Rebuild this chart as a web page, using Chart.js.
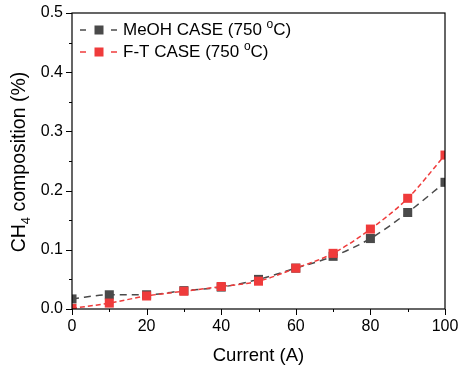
<!DOCTYPE html>
<html><head><meta charset="utf-8">
<script src="https://cdn.jsdelivr.net/npm/chart.js@4"></script>
<style>html,body{margin:0;padding:0;background:#fff}#wrap{width:461px;height:368px}</style>
</head><body><div id="wrap"><canvas id="c" width="461" height="368"></canvas></div>
<script>
const currents = [0,10,20,30,40,50,60,70,80,90,100];
const meohValues = [0.017,0.024,0.024,0.031,0.037,0.050,0.069,0.089,0.119,0.163,0.214];
const ftValues = [0.001,0.010,0.022,0.030,0.038,0.047,0.069,0.094,0.135,0.187,0.260];
const seriesNames = ['MeOH CASE (750 ', 'F-T CASE (750 '];
const xTitle = 'Current (A)';
const xTicks = [0,20,40,60,80,100];
const yTicks = [0,0.1,0.2,0.3,0.4,0.5];
const DARK = '#4a4a4a', RED = '#ef3b3b';
const FONT = '"Liberation Sans", Arial, sans-serif';

const deco = {
  id: 'deco',
  afterDraw(chart) {
    const ctx = chart.ctx, a = chart.chartArea;
    const xs = chart.scales.x, ys = chart.scales.y;
    ctx.save();
    ctx.strokeStyle = '#000'; ctx.lineWidth = 1.2;
    ctx.strokeRect(a.left, a.top, a.right - a.left, a.bottom - a.top);
    ctx.lineWidth = 1;
    for (let v = 0; v <= 100; v += 10) {
      const px = Math.round(xs.getPixelForValue(v)) + 0.5;
      const len = (v % 20 === 0) ? 6 : 3;
      ctx.beginPath(); ctx.moveTo(px, a.bottom); ctx.lineTo(px, a.bottom + len); ctx.stroke();
    }
    for (let i = 0; i <= 10; i++) {
      const v = i * 0.05;
      const py = Math.round(ys.getPixelForValue(v)) + 0.5;
      const len = (i % 2 === 0) ? 6 : 3;
      ctx.beginPath(); ctx.moveTo(a.left, py); ctx.lineTo(a.left - len, py); ctx.stroke();
    }
    // x title
    ctx.fillStyle = '#000';
    ctx.font = '18.5px ' + FONT; ctx.textAlign = 'center'; ctx.textBaseline = 'middle';
    ctx.fillText(xTitle, (a.left + a.right) / 2, 356);
    ctx.textAlign = 'left';
    // y title with subscript
    ctx.translate(20, (a.top + a.bottom) / 2 + 1);
    ctx.rotate(-Math.PI / 2);
    const f1 = '19.5px ' + FONT, f2 = '13px ' + FONT;
    ctx.font = f1; const w1 = ctx.measureText('CH').width;
    ctx.font = f2; const w2 = ctx.measureText('4').width;
    ctx.font = f1; const w3 = ctx.measureText(' composition (%)').width;
    let x0 = -(w1 + w2 + w3) / 2;
    ctx.font = f1; ctx.fillText('CH', x0, 0); x0 += w1;
    ctx.font = f2; ctx.fillText('4', x0, 6); x0 += w2;
    ctx.font = f1; ctx.fillText(' composition (%)', x0, 0);
    ctx.restore();

    // legend
    ctx.save();
    const rows = [{c: DARK, y: 30}, {c: RED, y: 52}];
    rows.forEach((r, i) => {
      ctx.strokeStyle = r.c; ctx.lineWidth = 1.5;
      ctx.beginPath(); ctx.moveTo(80, r.y); ctx.lineTo(86, r.y); ctx.stroke();
      ctx.beginPath(); ctx.moveTo(111, r.y); ctx.lineTo(117, r.y); ctx.stroke();
      ctx.fillStyle = r.c; ctx.fillRect(94.5, r.y - 4.5, 9, 9);
      ctx.fillStyle = '#000'; ctx.textBaseline = 'middle';
      ctx.font = '17px ' + FONT;
      let tx = 123;
      ctx.fillText(seriesNames[i], tx, r.y); tx += ctx.measureText(seriesNames[i]).width;
      ctx.font = '12px ' + FONT; ctx.fillText('o', tx, r.y - 5); tx += ctx.measureText('o').width;
      ctx.font = '17px ' + FONT; ctx.fillText('C)', tx, r.y);
    });
    ctx.restore();
  }
};

new Chart(document.getElementById('c'), {
  type: 'line',
  data: {
    labels: currents,
    datasets: [
      {label: 'MeOH', data: currents.map((x, i) => ({x, y: meohValues[i]})), borderColor: DARK, backgroundColor: DARK,
       borderDash: [7,5], borderWidth: 1.5, pointStyle: 'rect', pointRadius: 6.4, pointBorderWidth: 0, tension: 0.4, cubicInterpolationMode: 'monotone', order: 2},
      {label: 'FT', data: currents.map((x, i) => ({x, y: ftValues[i]})), borderColor: RED, backgroundColor: RED,
       borderDash: [5,3], borderWidth: 1.5, pointStyle: 'rect', pointRadius: 6.4, pointBorderWidth: 0, tension: 0.4, cubicInterpolationMode: 'monotone', order: 1}
    ]
  },
  options: {
    responsive: false, animation: false,
    layout: {padding: {top: 13, right: 16, left: 0, bottom: 0}},
    plugins: {legend: {display: false}, tooltip: {enabled: false}},
    scales: {
      x: {type: 'linear', min: 0, max: 100,
          afterBuildTicks: s => { s.ticks = xTicks.map(v => ({value: v})); },
          afterFit: s => { s.height = 59; s.paddingLeft = 0; s.paddingRight = 0; },
          grid: {display: false, drawTicks: false}, border: {display: false},
          ticks: {color: '#000', font: {family: FONT, size: 16}, padding: 8, maxRotation: 0}},
      y: {type: 'linear', min: 0, max: 0.5,
          afterBuildTicks: s => { s.ticks = yTicks.map(v => ({value: v})); },
          afterFit: s => { s.width = 72; s.paddingTop = 0; s.paddingBottom = 0; },
          grid: {display: false, drawTicks: false}, border: {display: false},
          ticks: {color: '#000', font: {family: FONT, size: 16}, padding: 9, callback: v => v.toFixed(1)}}
    }
  },
  plugins: [deco]
});
</script></body></html>
